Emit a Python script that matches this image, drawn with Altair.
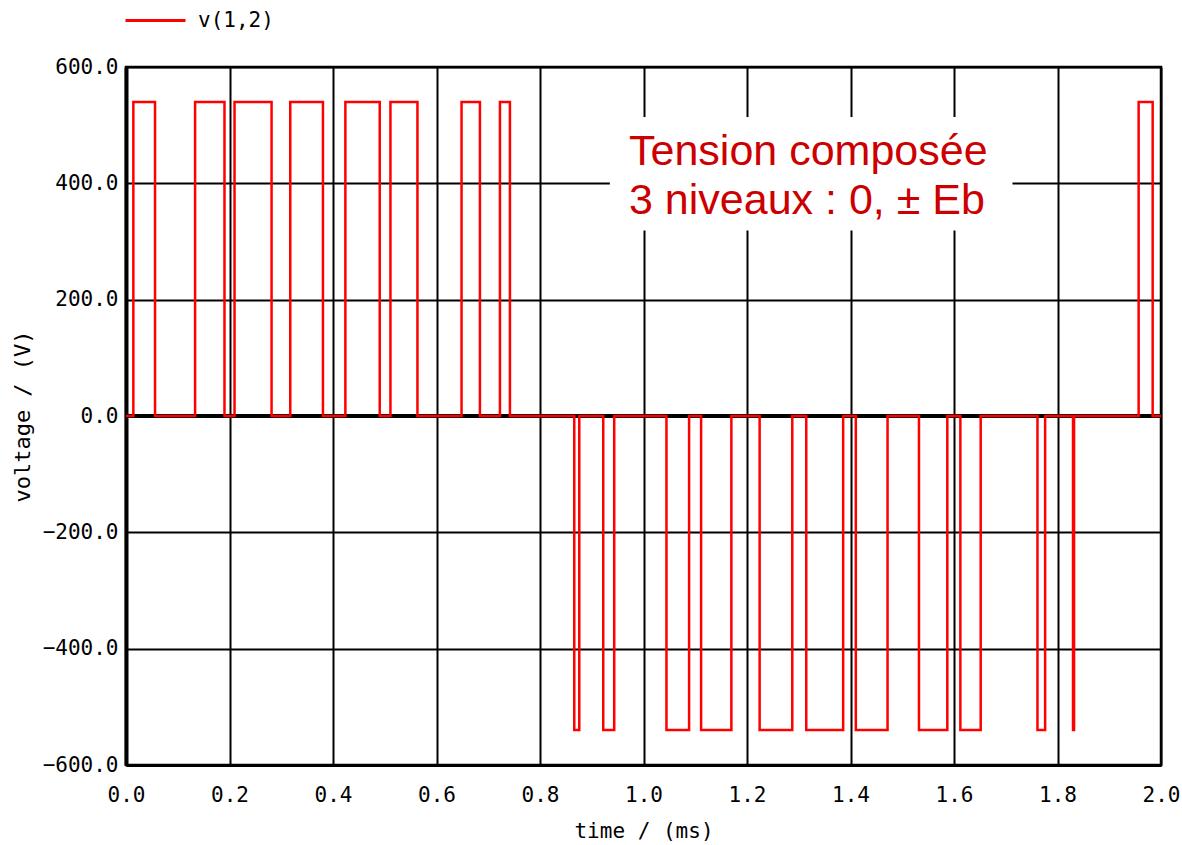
import altair as alt
import pandas as pd

# Three-level line-to-line voltage v(1,2), levels 0 and ±Eb
EB = 540.0
T_END = 2.0  # ms

# positive pulses (ms)
pos_start = [0.0142, 0.1335, 0.2097, 0.3174, 0.4239, 0.5110, 0.6484, 0.7226, 1.9568]
pos_end = [0.0561, 0.1903, 0.2813, 0.3806, 0.4903, 0.5632, 0.6839, 0.7419, 1.9839]
# negative pulses (ms)
neg_start = [0.8662, 0.9222, 1.0444, 1.1113, 1.2244, 1.3145, 1.4103, 1.5323, 1.6123, 1.7613, 1.8300]
neg_end = [0.8759, 0.9434, 1.0881, 1.1698, 1.2875, 1.3858, 1.4716, 1.5871, 1.6516, 1.7761, 1.8320]

x_ticks = [0.0, 0.2, 0.4, 0.6, 0.8, 1.0, 1.2, 1.4, 1.6, 1.8, 2.0]
y_ticks = [-600, -400, -200, 0, 200, 400, 600]

note_lines = ["Tension composée", "3 niveaux : 0, ± Eb"]
note_t = [0.972, 0.972]
note_v = [431, 348]
box_t = [0.935, 1.713]
box_v = [319, 514]

# build the step waveform as a polyline
pulses = sorted(
    [(s, e, EB) for s, e in zip(pos_start, pos_end)]
    + [(s, e, -EB) for s, e in zip(neg_start, neg_end)]
)
ts, vs = [0.0], [0.0]
for s, e, lvl in pulses:
    ts += [s, s, e, e]
    vs += [0.0, lvl, lvl, 0.0]
ts.append(T_END)
vs.append(0.0)
wave = pd.DataFrame({"t": ts, "v": vs, "i": range(len(ts)), "series": "v(1,2)"})

MONO = "DejaVu Sans Mono"

x_scale = alt.Scale(domain=[0, 2], nice=False, zero=False)
y_scale = alt.Scale(domain=[-600, 600], nice=False)

x_axis = alt.Axis(
    values=x_ticks, format=".1f", title="time / (ms)",
    grid=True, gridColor="black", gridWidth=2, gridOpacity=1,
    tickSize=0, labelPadding=19, labelFontSize=21, labelFont=MONO, labelColor="black",
    titleFont=MONO, titleFontSize=21, titleFontWeight="normal", titleColor="black",
    titlePadding=15, domainColor="black", domainWidth=3, labelFlush=False,
)
y_axis = alt.Axis(
    values=y_ticks, format=".1f", title="voltage / (V)",
    grid=True, gridColor="black", gridWidth=2, gridOpacity=1,
    tickSize=0, labelPadding=8, labelFontSize=21, labelFont=MONO, labelColor="black",
    titleFont=MONO, titleFontSize=22, titleFontWeight="normal", titleColor="black",
    titlePadding=8, domainColor="black", domainWidth=4, labelFlush=False,
)

zero_line = alt.Chart(pd.DataFrame({"v": [0.0]})).mark_rule(
    color="black", strokeWidth=4
).encode(y=alt.Y("v:Q", scale=y_scale, axis=y_axis))

line = alt.Chart(wave).mark_line(strokeWidth=2.5, interpolate="linear").encode(
    x=alt.X("t:Q", scale=x_scale, axis=x_axis),
    y=alt.Y("v:Q", scale=y_scale, axis=y_axis),
    order="i:Q",
    color=alt.Color(
        "series:N",
        scale=alt.Scale(range=["#ff0000"]),
        legend=alt.Legend(
            title=None, orient="none", legendX=-2, legendY=-78,
            symbolType="stroke", symbolSize=3600, symbolStrokeWidth=3,
            labelFont=MONO, labelFontSize=21, labelColor="black", labelOffset=11,
        ),
    ),
)

box = alt.Chart(
    pd.DataFrame({"t1": [box_t[0]], "t2": [box_t[1]], "v1": [box_v[0]], "v2": [box_v[1]]})
).mark_rect(color="white", opacity=1).encode(
    x=alt.X("t1:Q", scale=x_scale), x2="t2:Q",
    y=alt.Y("v1:Q", scale=y_scale), y2="v2:Q",
)

note = alt.Chart(pd.DataFrame({"t": note_t, "v": note_v, "label": note_lines})).mark_text(
    align="left", baseline="alphabetic", font="Liberation Sans", fontSize=43, color="#cc0000"
).encode(
    x=alt.X("t:Q", scale=x_scale),
    y=alt.Y("v:Q", scale=y_scale),
    text="label:N",
)

chart = alt.layer(zero_line, line, box, note).properties(
    width=1035, height=698,
    autosize=alt.AutoSizeParams(type="none"),
    padding={"left": 126, "top": 67, "right": 21, "bottom": 80},
    background="white",
).configure_view(stroke="black", strokeWidth=2.5)

chart.save("out.html", embed_options={"renderer": "svg", "actions": False})
